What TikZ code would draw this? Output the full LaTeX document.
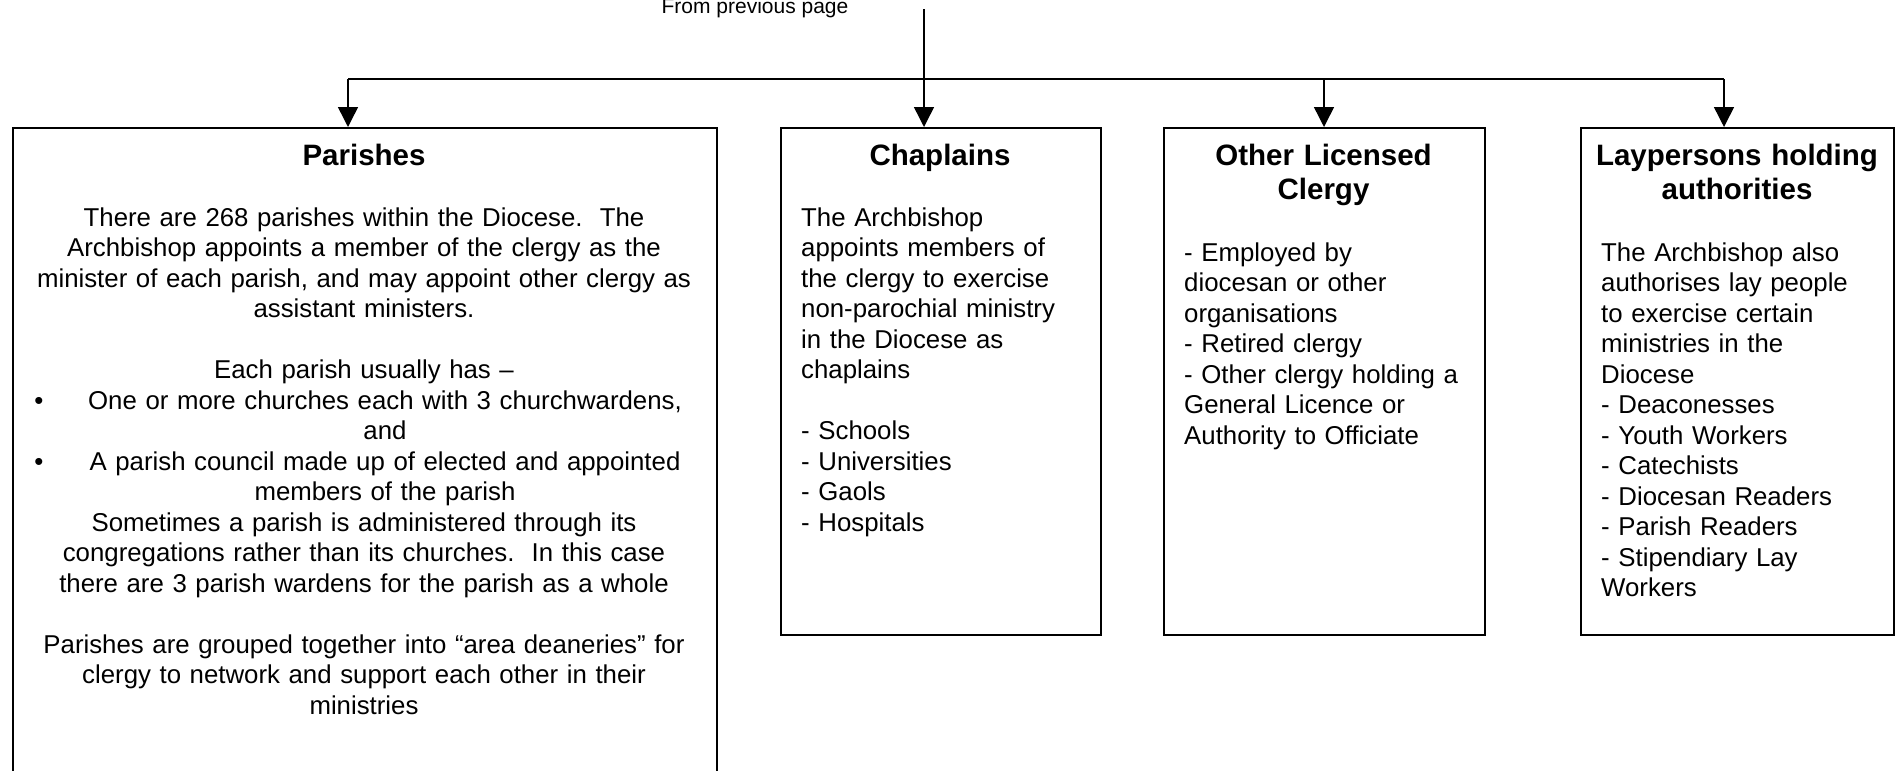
\documentclass[tikz,border=0pt]{standalone}
\usepackage{fontspec}
\setmainfont{Liberation Sans}
\usetikzlibrary{arrows.meta}

\newcommand{\bodyfont}{\fontsize{25.8}{30.5}\selectfont}
\newcommand{\headfont}{\fontsize{29.5}{34}\selectfont\bfseries}
\newcommand{\notefont}{\fontsize{21}{24}\selectfont}
% bullet line and its continuation inside the centred parish text
\newcommand{\pitem}[1]{\leavevmode\hbox to \linewidth{\hskip 12.5pt\textbullet\hskip 20.5pt\hfil #1\hfil}}
\newcommand{\pcont}[1]{\leavevmode\hbox to \linewidth{\hskip 42pt\hfil #1\hfil}}

\begin{document}
\frenchspacing
\begin{tikzpicture}[x=1pt,y=-1pt,
    box/.style={draw,line width=1.5pt,inner sep=0pt,anchor=north west},
    heading/.style={font=\headfont,align=center,anchor=base,inner sep=0pt,text width=310pt},
    body/.style={font=\bodyfont,align=left,anchor=base west,inner sep=0pt,text width=295pt},
    note/.style={font=\notefont,anchor=base,inner sep=0pt},
    link/.style={line width=1.5pt,-{Triangle[length=20pt,width=20pt]}}]
  \useasboundingbox (0,0) rectangle (1896,771);

  % Boxes
  \node[box,minimum width=704pt,minimum height=700pt] (parishes) at (12,127) {};
  \node[box,minimum width=320pt,minimum height=507pt] (chaplains) at (780,127) {};
  \node[box,minimum width=321pt,minimum height=507pt] (other) at (1163,127) {};
  \node[box,minimum width=313pt,minimum height=507pt] (lay) at (1580,127) {};

  % Headings
  \node[heading] (parishes title) at (364,165) {Parishes};
  \node[heading] (chaplains title) at (940,165) {Chaplains};
  \node[heading] (other title) at (1323.5,165) {Other Licensed\\Clergy};
  \node[heading] (lay title) at (1737,165) {Laypersons holding\\authorities};

  % Texts
  \node[body,align=center,anchor=base,text width=684pt] (parishes text) at (364,226) {%
    There are 268 parishes within the Diocese.\ \ The\\
    Archbishop appoints a member of the clergy as the\\
    minister of each parish, and may appoint other clergy as\\
    assistant ministers.\\[30.5pt]
    Each parish usually has –\\
    \pitem{One or more churches each with 3 churchwardens,}\\
    \pcont{and}\\
    \pitem{A parish council made up of elected and appointed}\\
    \pcont{members of the parish}\\
    Sometimes a parish is administered through its\\
    congregations rather than its churches.\ \ In this case\\
    there are 3 parish wardens for the parish as a whole\\[30.5pt]
    Parishes are grouped together into “area deaneries” for\\
    clergy to network and support each other in their\\
    ministries};
  \node[body] (chaplains text) at (801,226) {%
    The Archbishop\\
    appoints members of\\
    the clergy to exercise\\
    non-parochial ministry\\
    in the Diocese as\\
    chaplains\\[30.5pt]
    - Schools\\
    - Universities\\
    - Gaols\\
    - Hospitals};
  \node[body] (other text) at (1184,261) {%
    - Employed by\\
    diocesan or other\\
    organisations\\
    - Retired clergy\\
    - Other clergy holding a\\
    General Licence or\\
    Authority to Officiate};
  \node[body] (lay text) at (1601,261) {%
    The Archbishop also\\
    authorises lay people\\
    to exercise certain\\
    ministries in the\\
    Diocese\\
    - Deaconesses\\
    - Youth Workers\\
    - Catechists\\
    - Diocesan Readers\\
    - Parish Readers\\
    - Stipendiary Lay\\
    Workers};

  \node[note] (prev) at (755,13) {From previous page};

  % Edges
  \coordinate (src) at (924,9);
  \coordinate (busL) at (348,79);
  \coordinate (busM) at (1324,79);
  \coordinate (busR) at (1724,79);
  \draw[line width=1.5pt] (busL) -- (busR);
  \draw[link] (src) -- (src |- chaplains.north);
  \draw[link] (busL) -- (busL |- parishes.north);
  \draw[link] (busM) -- (busM |- other.north);
  \draw[link] (busR) -- (busR |- lay.north);
\end{tikzpicture}
\end{document}
